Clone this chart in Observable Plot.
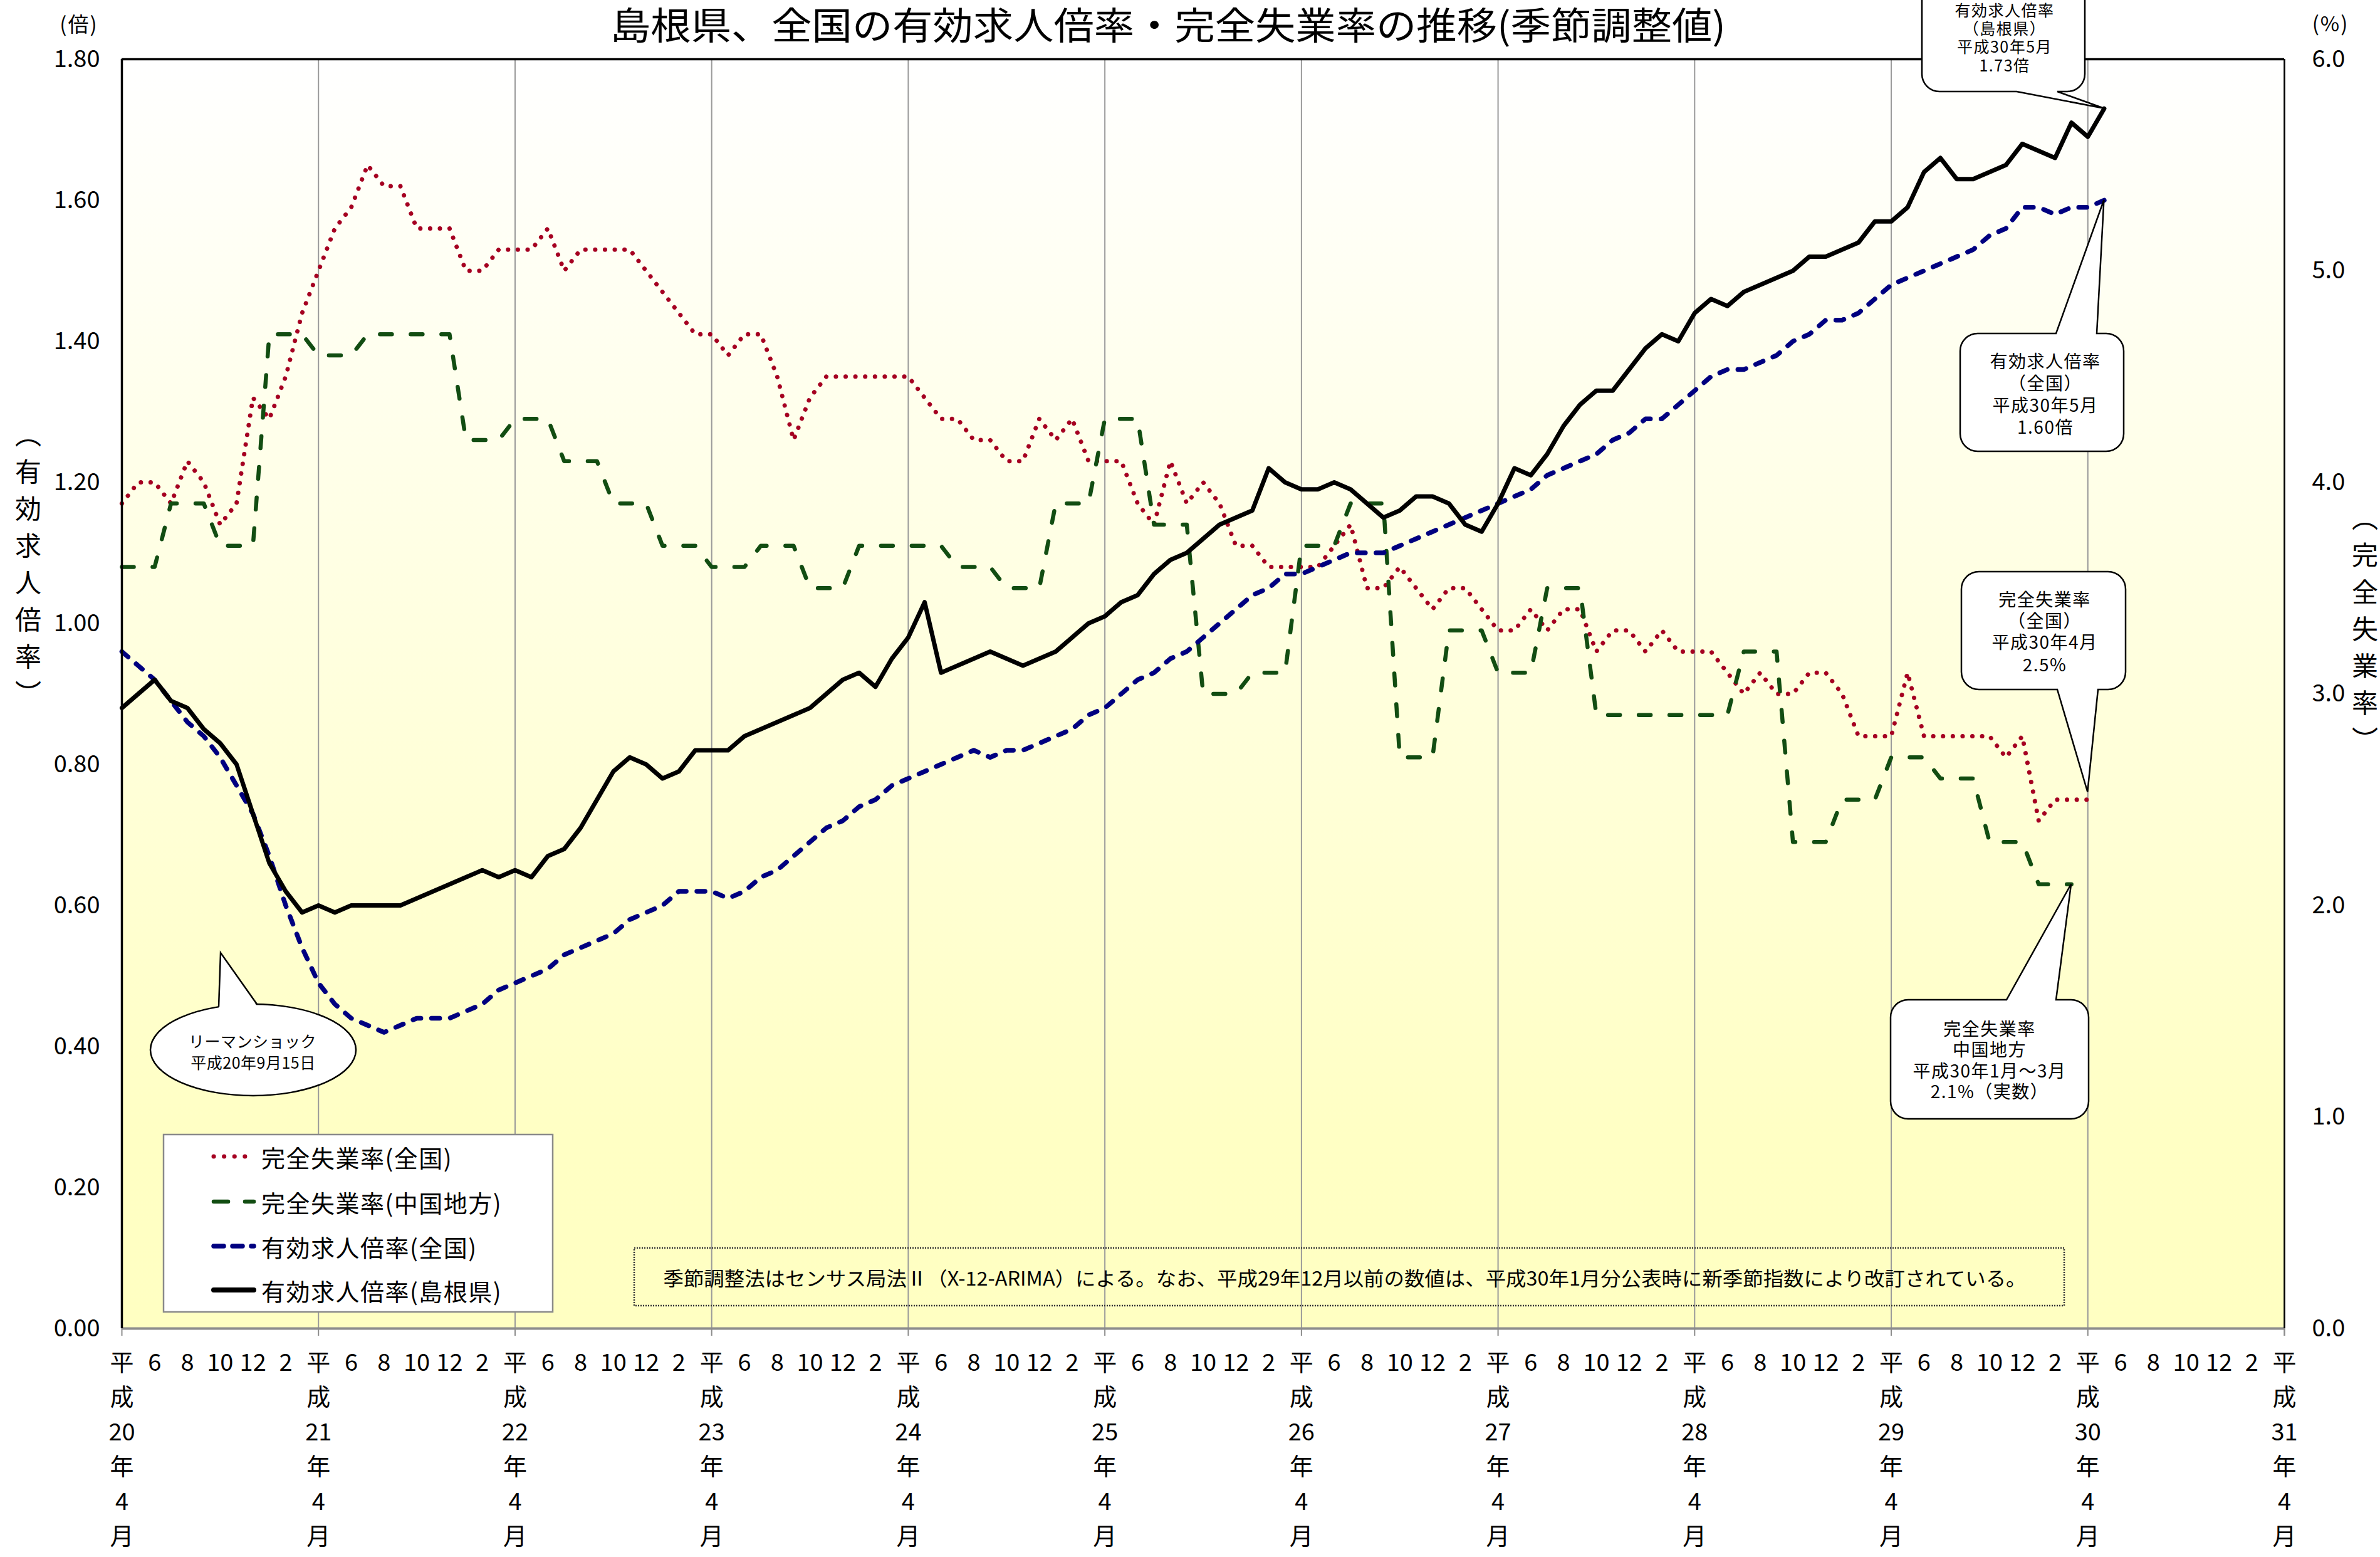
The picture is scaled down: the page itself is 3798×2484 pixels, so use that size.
<!DOCTYPE html>
<html>
<head>
<meta charset="utf-8">
<script src="https://cdn.jsdelivr.net/npm/d3@7"></script>
<script src="https://cdn.jsdelivr.net/npm/@observablehq/plot@0.6"></script>
<style>
html, body { margin: 0; padding: 0; background: #fff; }
#chart svg { display: block; }
</style>
</head>
<body>
<div id="chart"></div>
<script>
const FONT = "'Noto Sans CJK JP', 'Noto Sans', sans-serif";
const TITLE = "島根県、全国の有効求人倍率・完全失業率の推移(季節調整値)";
const NOTE = "季節調整法はセンサス局法Ⅱ（X-12-ARIMA）による。なお、平成29年12月以前の数値は、平成30年1月分公表時に新季節指数により改訂されている。";

// ---- Data: monthly from 平成20年4月 (index 0) ----
// 有効求人倍率（島根県）, 平成20年4月〜平成30年5月
const shimaneRatio = [
  0.88, 0.90, 0.92, 0.89, 0.88, 0.85, 0.83, 0.80, 0.73, 0.66, 0.62, 0.59, // H20
  0.60, 0.59, 0.60, 0.60, 0.60, 0.60, 0.61, 0.62, 0.63, 0.64, 0.65, 0.64, // H21
  0.65, 0.64, 0.67, 0.68, 0.71, 0.75, 0.79, 0.81, 0.80, 0.78, 0.79, 0.82, // H22
  0.82, 0.82, 0.84, 0.85, 0.86, 0.87, 0.88, 0.90, 0.92, 0.93, 0.91, 0.95, // H23
  0.98, 1.03, 0.93, 0.94, 0.95, 0.96, 0.95, 0.94, 0.95, 0.96, 0.98, 1.00, // H24
  1.01, 1.03, 1.04, 1.07, 1.09, 1.10, 1.12, 1.14, 1.15, 1.16, 1.22, 1.20, // H25
  1.19, 1.19, 1.20, 1.19, 1.17, 1.15, 1.16, 1.18, 1.18, 1.17, 1.14, 1.13, // H26
  1.17, 1.22, 1.21, 1.24, 1.28, 1.31, 1.33, 1.33, 1.36, 1.39, 1.41, 1.40, // H27
  1.44, 1.46, 1.45, 1.47, 1.48, 1.49, 1.50, 1.52, 1.52, 1.53, 1.54, 1.57, // H28
  1.57, 1.59, 1.64, 1.66, 1.63, 1.63, 1.64, 1.65, 1.68, 1.67, 1.66, 1.71, // H29
  1.69, 1.73                                                              // H30
];
// 有効求人倍率（全国）
const nationalRatio = [
  0.96, 0.94, 0.92, 0.89, 0.86, 0.84, 0.81, 0.77, 0.73, 0.67, 0.60, 0.54,
  0.49, 0.46, 0.44, 0.43, 0.42, 0.43, 0.44, 0.44, 0.44, 0.45, 0.46, 0.48,
  0.49, 0.50, 0.51, 0.53, 0.54, 0.55, 0.56, 0.58, 0.59, 0.60, 0.62, 0.62,
  0.62, 0.61, 0.62, 0.64, 0.65, 0.67, 0.69, 0.71, 0.72, 0.74, 0.75, 0.77,
  0.78, 0.79, 0.80, 0.81, 0.82, 0.81, 0.82, 0.82, 0.83, 0.84, 0.85, 0.87,
  0.88, 0.90, 0.92, 0.93, 0.95, 0.96, 0.98, 1.00, 1.02, 1.04, 1.05, 1.07,
  1.07, 1.08, 1.09, 1.10, 1.10, 1.10, 1.11, 1.12, 1.13, 1.14, 1.15, 1.16,
  1.17, 1.18, 1.19, 1.21, 1.22, 1.23, 1.24, 1.26, 1.27, 1.29, 1.29, 1.31,
  1.33, 1.35, 1.36, 1.36, 1.37, 1.38, 1.40, 1.41, 1.43, 1.43, 1.44, 1.46,
  1.48, 1.49, 1.50, 1.51, 1.52, 1.53, 1.55, 1.56, 1.59, 1.59, 1.58, 1.59,
  1.59, 1.60
];
// 完全失業率（全国）%, 平成20年4月〜平成30年4月
const nationalUnemp = [
  3.9, 4.0, 4.0, 3.9, 4.1, 4.0, 3.8, 3.9, 4.4, 4.3, 4.5, 4.8,
  5.0, 5.2, 5.3, 5.5, 5.4, 5.4, 5.2, 5.2, 5.2, 5.0, 5.0, 5.1,
  5.1, 5.1, 5.2, 5.0, 5.1, 5.1, 5.1, 5.1, 5.0, 4.9, 4.8, 4.7,
  4.7, 4.6, 4.7, 4.7, 4.5, 4.2, 4.4, 4.5, 4.5, 4.5, 4.5, 4.5,
  4.5, 4.4, 4.3, 4.3, 4.2, 4.2, 4.1, 4.1, 4.3, 4.2, 4.3, 4.1,
  4.1, 4.1, 3.9, 3.8, 4.1, 3.9, 4.0, 3.9, 3.7, 3.7, 3.6, 3.6,
  3.6, 3.6, 3.7, 3.8, 3.5, 3.5, 3.6, 3.5, 3.4, 3.5, 3.5, 3.4,
  3.3, 3.3, 3.4, 3.3, 3.4, 3.4, 3.2, 3.3, 3.3, 3.2, 3.3, 3.2,
  3.2, 3.2, 3.1, 3.0, 3.1, 3.0, 3.0, 3.1, 3.1, 3.0, 2.8, 2.8,
  2.8, 3.1, 2.8, 2.8, 2.8, 2.8, 2.8, 2.7, 2.8, 2.4, 2.5, 2.5,
  2.5
];
// 完全失業率（中国地方）% quarterly, 平成20年4〜6月 〜 平成30年1〜3月
const chugokuUnempQ = [
  3.6, 3.9, 3.7, 4.7,  // H20
  4.6, 4.7, 4.7, 4.2,  // H21
  4.3, 4.1, 3.9, 3.7,  // H22
  3.6, 3.7, 3.5, 3.7,  // H23
  3.7, 3.6, 3.5, 3.9,  // H24
  4.3, 3.8, 3.0, 3.1,  // H25
  3.7, 3.9, 2.7, 3.3,  // H26
  3.1, 3.5, 2.9, 2.9,  // H27
  2.9, 3.2, 2.3, 2.5,  // H28
  2.7, 2.6, 2.3, 2.1   // H29
];

// Axis tick labels
const leftTicks = [0, 0.2, 0.4, 0.6, 0.8, 1.0, 1.2, 1.4, 1.6, 1.8];
const rightTicks = [0, 1, 2, 3, 4, 5, 6];
const monthLabels = ["平", "6", "8", "10", "12", "2"];   // Apr(平成…年4月), Jun, Aug, Oct, Dec, Feb
const eraYears = ["20", "21", "22", "23", "24", "25", "26", "27", "28", "29", "30", "31"];
const yearRowLabels = ["成", null, "年", "4", "月"];

// Series names
const names = ["完全失業率(全国)", "完全失業率(中国地方)", "有効求人倍率(全国)", "有効求人倍率(島根県)"];

// ---- Derived tables ----
const K = 1.8 / 6; // % (right axis) -> left axis units
const rowsOf = (arr, k = 1) => arr.map((v, i) => ({m: i, v: v * k}));
const shimaneRows = rowsOf(shimaneRatio);
const nationalRows = rowsOf(nationalRatio);
const unempRows = rowsOf(nationalUnemp, K);
const chugokuRows = rowsOf(chugokuUnempQ.flatMap(v => [v, v, v]), K);
const yearTicks = eraYears.map((y, i) => i * 12);
const monthRow = [];
eraYears.forEach((y, i) => monthLabels.forEach((t, j) => {
  const m = i * 12 + j * 2;
  if (m <= 132) monthRow.push({m, t});
}));
const yearRows = yearRowLabels.map((lab, r) => eraYears.map((y, i) => ({m: i * 12, t: lab === null ? y : lab})));

const RED = "#A50021", GREEN = "#124D12", NAVY = "#000080", BLACK = "#000000";
const styles = [
  {stroke: RED, strokeWidth: 7, strokeDasharray: "0.1 15.5", strokeLinecap: "round"},
  {stroke: GREEN, strokeWidth: 6.5, strokeDasharray: "19 30", strokeLinecap: "round"},
  {stroke: NAVY, strokeWidth: 7.5, strokeDasharray: "13 17", strokeLinecap: "round"},
  {stroke: BLACK, strokeWidth: 7, strokeLinecap: "round"}
];

// ---- Background (gradient plot area) ----
function background(index, scales) {
  const X = scales.x, Y = scales.y;
  const g = d3.create("svg:g");
  const grad = g.append("defs").append("linearGradient")
    .attr("id", "plotBg").attr("x1", 0).attr("y1", 0).attr("x2", 0).attr("y2", 1);
  grad.append("stop").attr("offset", "0%").attr("stop-color", "#FFFFFF");
  grad.append("stop").attr("offset", "85%").attr("stop-color", "#FFFFC4");
  grad.append("stop").attr("offset", "100%").attr("stop-color", "#FFFFC2");
  g.append("rect")
    .attr("x", X(0)).attr("y", Y(1.8))
    .attr("width", X(132) - X(0)).attr("height", Y(0) - Y(1.8))
    .attr("fill", "url(#plotBg)");
  return g.node();
}

function bubblePath(x1, y1, x2, y2, r, side, b1, b2, tx, ty) {
  const p = d3.path();
  p.moveTo(x1 + r, y1);
  if (side === "top") { p.lineTo(b1, y1); p.lineTo(tx, ty); p.lineTo(b2, y1); }
  p.lineTo(x2 - r, y1);
  p.arcTo(x2, y1, x2, y1 + r, r);
  p.lineTo(x2, y2 - r);
  p.arcTo(x2, y2, x2 - r, y2, r);
  if (side === "bottom") { p.lineTo(b2, y2); p.lineTo(tx, ty); p.lineTo(b1, y2); }
  p.lineTo(x1 + r, y2);
  p.arcTo(x1, y2, x1, y2 - r, r);
  p.lineTo(x1, y1 + r);
  p.arcTo(x1, y1, x1 + r, y1, r);
  p.closePath();
  return p.toString();
}

// ---- Annotations, legend, titles ----
function overlay(index, scales) {
  const X = scales.x, Y = scales.y;
  const g = d3.create("svg:g").attr("font-family", FONT);
  const txt = (x, y, s, size, o = {}) => {
    const t = g.append("text").attr("x", x).attr("y", y)
      .attr("text-anchor", o.anchor || "middle").attr("dominant-baseline", "central")
      .attr("font-size", size).attr("fill", "#000").text(s);
    if (o.ls) t.attr("letter-spacing", o.ls);
    if (o.len) t.attr("textLength", o.len).attr("lengthAdjust", "spacingAndGlyphs");
    if (o.vertical) t.style("writing-mode", "vertical-rl").attr("dominant-baseline", null);
    return t;
  };

  // Title and unit labels
  txt(1864, 36, TITLE, 60, {len: 1780});
  txt(126, 37, "(倍)", 33, {ls: 2});
  txt(3719, 36, "(%)", 33, {ls: 2});
  txt(45, 908, "（有効求人倍率）", 42, {vertical: true, ls: 17});
  txt(3774, 1012, "（完全失業率）", 42, {vertical: true, ls: 17});

  // Note box
  g.append("rect").attr("x", 1012).attr("y", 1991).attr("width", 2282).attr("height", 92)
    .attr("fill", "none").attr("stroke", "#333").attr("stroke-width", 2.5).attr("stroke-dasharray", "2 2");
  txt(2146, 2037, NOTE, 31, {len: 2175});

  // Legend
  g.append("rect").attr("x", 261).attr("y", 1810).attr("width", 621).attr("height", 283)
    .attr("fill", "#fff").attr("stroke", "#8a8a8a").attr("stroke-width", 2.5);
  const legendY = [1845, 1917, 1988, 2058];
  const legendDash = ["0.1 16.5", "23 27", "16 14", null];
  names.forEach((n, i) => {
    const s = styles[i];
    const ln = g.append("line").attr("x1", 341).attr("x2", 405).attr("y1", legendY[i]).attr("y2", legendY[i])
      .attr("stroke", s.stroke).attr("stroke-width", i === 3 ? 8 : s.strokeWidth)
      .attr("stroke-linecap", "round");
    if (legendDash[i]) ln.attr("stroke-dasharray", legendDash[i]);
    txt(417, legendY[i], n, 38, {anchor: "start", ls: 1.5});
  });

  // Lehman shock callout (ellipse)
  const cx = 404, cy = 1675, rx = 164, ry = 73;
  const ey = x => cy - ry * Math.sqrt(1 - ((x - cx) / rx) ** 2);
  g.append("ellipse").attr("cx", cx).attr("cy", cy).attr("rx", rx).attr("ry", ry)
    .attr("fill", "#fff").attr("stroke", "#000").attr("stroke-width", 2.5);
  const bA = [349, ey(349) + 3], bB = [410, ey(410) + 3], tip = [352, 1520];
  g.append("path").attr("d", `M${bA}L${tip}L${bB}Z`).attr("fill", "#fff");
  g.append("path").attr("d", `M${bA[0]},${bA[1] - 3}L${tip}L${bB[0]},${bB[1] - 3}`)
    .attr("fill", "none").attr("stroke", "#000").attr("stroke-width", 2.5).attr("stroke-linejoin", "miter");
  txt(403, 1660, "リーマンショック", 25, {ls: 0.5});
  txt(404, 1694, "平成20年9月15日", 25, {ls: 0.5});

  // Rectangular callouts pointing at the last data points
  const callouts = [
    {box: [3067, -40, 3327, 146], side: "bottom", base: [3218, 3283], tip: [121, shimaneRatio[121]], dy: 0,
     cx: 3199, size: 25, lines: ["有効求人倍率", "（島根県）", "平成30年5月", "1.73倍"], ly: [15, 44, 73, 103]},
    {box: [3128, 532, 3389, 720], side: "top", base: [3281, 3346], tip: [121, nationalRatio[121]], dy: 0,
     cx: 3264, size: 28, lines: ["有効求人倍率", "（全国）", "平成30年5月", "1.60倍"], ly: [575, 610, 645, 680]},
    {box: [3130, 912, 3392, 1100], side: "bottom", base: [3283, 3348], tip: [120, nationalUnemp[120] * K], dy: -12,
     cx: 3263, size: 28, lines: ["完全失業率", "（全国）", "平成30年4月", "2.5%"], ly: [955, 989, 1023, 1059]},
    {box: [3017, 1595, 3333, 1785], side: "top", base: [3202, 3281], tip: [119, chugokuUnempQ[39] * K], dy: 0,
     cx: 3175, size: 28, lines: ["完全失業率", "中国地方", "平成30年1月～3月", "2.1%（実数）"], ly: [1640, 1673, 1707, 1740]}
  ];
  callouts.forEach(c => {
    const [x1, y1, x2, y2] = c.box;
    const tx = X(c.tip[0]), ty = Y(c.tip[1]) + c.dy;
    g.append("path").attr("d", bubblePath(x1, y1, x2, y2, 28, c.side, c.base[0], c.base[1], tx, ty))
      .attr("fill", "#fff").attr("stroke", "#000").attr("stroke-width", 2.5).attr("stroke-linejoin", "miter");
    c.lines.forEach((s, i) => txt(c.cx, c.ly[i], s, c.size, {ls: 1.5}));
  });
  return g.node();
}

const chart = Plot.plot({
  width: 3798,
  height: 2484,
  marginTop: 94,
  marginRight: 153,
  marginBottom: 365,
  marginLeft: 194,
  x: {type: "linear", domain: [0, 132]},
  y: {type: "linear", domain: [0, 1.8]},
  style: {fontFamily: FONT, background: "#fff", overflow: "visible"},
  marks: [
    background,
    Plot.ruleX(yearTicks.concat([132]), {stroke: "#9a9a9a", strokeWidth: 2}),
    Plot.line(unempRows, {x: "m", y: "v", ...styles[0]}),
    Plot.line(chugokuRows, {x: "m", y: "v", ...styles[1]}),
    Plot.line(nationalRows, {x: "m", y: "v", ...styles[2]}),
    Plot.line(shimaneRows, {x: "m", y: "v", ...styles[3]}),
    Plot.ruleY([0], {stroke: "#8c8c8c", strokeWidth: 4}),
    Plot.ruleX([0], {stroke: "#000", strokeWidth: 3.5}),
    Plot.ruleX([132], {stroke: "#000", strokeWidth: 2.5}),
    Plot.ruleY([1.8], {stroke: "#000", strokeWidth: 3.5}),
    Plot.axisY(leftTicks, {anchor: "left", tickSize: 0, tickPadding: 35, fontSize: 38,
      tickFormat: d => d.toFixed(2), label: null}),
    Plot.axisY(rightTicks, {anchor: "right", y: d => d * K, tickSize: 0, tickPadding: 44, fontSize: 38,
      tickFormat: d => d.toFixed(1), label: null}),
    Plot.axisX(yearTicks.concat([132]), {tickSize: 12, tickFormat: () => "", stroke: "#8c8c8c", strokeWidth: 2, label: null}),
    Plot.text(monthRow, {x: "m", text: "t", frameAnchor: "bottom", dy: 67, fontSize: 38}),
    ...yearRows.map((rows, r) => Plot.text(rows, {x: "m", text: "t", frameAnchor: "bottom", dy: 67 + 55.5 * (r + 1), fontSize: 38})),
    overlay
  ]
});
document.getElementById("chart").appendChild(chart);
</script>
</body>
</html>
